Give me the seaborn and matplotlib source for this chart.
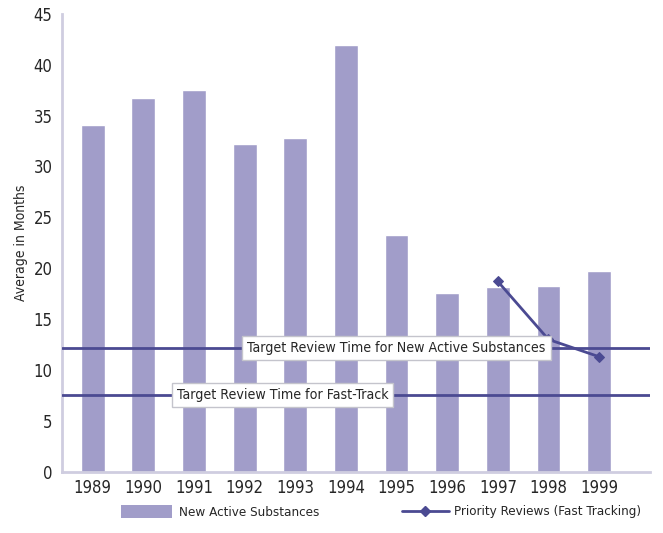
import numpy as np
import pandas as pd
import matplotlib
matplotlib.use('Agg')
import matplotlib.pyplot as plt
import seaborn as sns
from matplotlib.lines import Line2D
from matplotlib.patches import Patch

years = ['1989', '1990', '1991', '1992', '1993', '1994', '1995', '1996', '1997', '1998', '1999']
nas_months = [34.1, 36.7, 37.5, 32.2, 32.8, 41.9, 23.3, 17.6, 18.2, 18.3, 19.7]
priority_years = ['1997', '1998', '1999']
priority_months = [18.7, 13.0, 11.3]
target_nas = 12.2
target_fast = 7.5

bar_col = '#a19dc9'
line_col = '#4b4a92'
axis_col = '#cfcde0'

sns.set_style('white')
plt.rcParams['font.family'] = ['DejaVu Sans']
plt.rcParams['font.stretch'] = 'condensed'

fig, ax = plt.subplots(figsize=(6.63, 5.33), dpi=100)
fig.subplots_adjust(left=0.094, right=0.98, top=0.974, bottom=0.115)

df = pd.DataFrame({'year': years, 'months': nas_months})
sns.barplot(data=df, x='year', y='months', color=bar_col, saturation=1,
            width=0.47, ax=ax)

pr = pd.DataFrame({'pos': [years.index(y) for y in priority_years],
                   'months': priority_months})
sns.lineplot(data=pr, x='pos', y='months', color=line_col, marker='D',
             markersize=5, markeredgecolor=line_col, linewidth=2, ax=ax)

ax.axhline(target_nas, color=line_col, linewidth=2, zorder=3)
ax.axhline(target_fast, color=line_col, linewidth=2, zorder=3)

box = dict(boxstyle='square,pad=0.35', facecolor='white', edgecolor='#c4c4cc', linewidth=1)
ax.text(6.0, target_nas, 'Target Review Time for New Active Substances', ha='center',
        va='center', fontsize=10.2, bbox=box, zorder=5)
ax.text(3.75, target_fast, 'Target Review Time for Fast-Track', ha='center',
        va='center', fontsize=10.2, bbox=box, zorder=5)

ax.set_xlim(-0.6, 11.0)
ax.set_ylim(0, 45)
ax.set_yticks(range(0, 46, 5))
ax.set_xlabel('')
ax.set_ylabel('Average in Months', fontsize=10)
ax.set_xticks(np.arange(len(years)) + 0.5, minor=True)
ax.tick_params(axis='x', which='major', length=0, labelsize=12, pad=5)
ax.tick_params(axis='x', which='minor', length=3, color=axis_col)
ax.tick_params(axis='y', length=4, color=axis_col, labelsize=12, pad=3, direction='out')

sns.despine(ax=ax)
for s in ['left', 'bottom']:
    ax.spines[s].set_color(axis_col)
    ax.spines[s].set_linewidth(2)

h1 = Patch(facecolor=bar_col, edgecolor='none')
h2 = Line2D([0], [0], color=line_col, marker='D', markersize=5, linewidth=2)
fig.legend([h1], ['New Active Substances'], loc='center left', bbox_to_anchor=(0.165, 0.04),
           frameon=False, fontsize=9.6, handlelength=3.8, handleheight=1.2, handletextpad=0.5)
fig.legend([h2], ['Priority Reviews (Fast Tracking)'], loc='center right',
           bbox_to_anchor=(0.985, 0.04), frameon=False, fontsize=9.6, handlelength=3.5,
           handletextpad=0.4)

fig.savefig('out.png', dpi=100)
